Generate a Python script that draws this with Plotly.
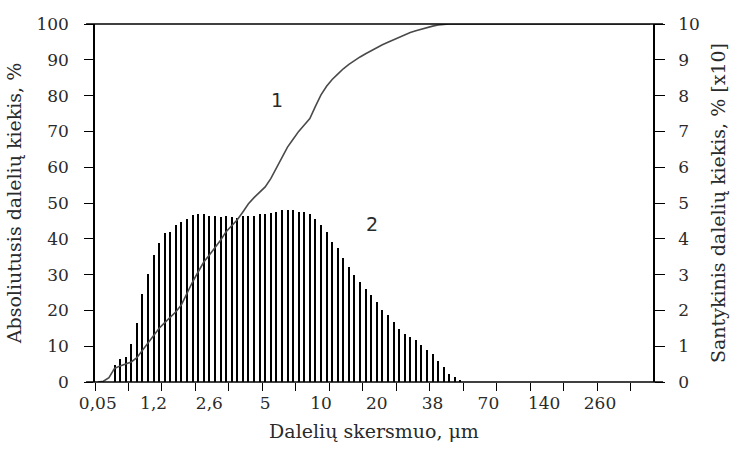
import plotly.graph_objects as go

# ---------------- data ----------------
categories = list(range(1, 101))
tick_positions = [1, 11, 21, 31, 41, 51, 61, 71, 81, 91]
tick_labels = ["0,05", "1,2", "2,6", "5", "10", "20", "38", "70", "140", "260"]

# curve 1 : absolute (cumulative) amount, %
cumulative = [
    0.0, 0.2, 1.2, 3.8, 4.5, 5.0, 5.6, 6.8, 8.8, 10.8,
    12.8, 15.0, 16.6, 18.1, 19.6, 21.6, 25.0, 28.0, 30.8, 33.5,
    35.5, 37.5, 39.6, 42.0, 43.7, 45.3, 47.5, 49.8, 51.5, 53.0,
    54.5, 56.8, 59.8, 62.8, 65.6, 67.8, 70.0, 71.8, 73.6, 77.0,
    80.2, 82.6, 84.5, 86.0, 87.5, 88.7, 89.8, 90.8, 91.7, 92.6,
    93.4, 94.2, 94.9, 95.6, 96.3, 97.0, 97.6, 98.1, 98.6, 99.0,
    99.4, 99.7, 99.9, 100, 100, 100, 100, 100, 100, 100,
    100, 100, 100, 100, 100, 100, 100, 100, 100, 100,
    100, 100, 100, 100, 100, 100, 100, 100, 100, 100,
    100, 100, 100, 100, 100, 100, 100, 100, 100, 100,
]

# bars 2 : relative amount, % [x10]
relative = [
    0, 0, 0, 0.47, 0.65, 0.70, 1.07, 1.64, 2.47, 3.03,
    3.54, 3.87, 4.15, 4.18, 4.38, 4.47, 4.56, 4.66, 4.70, 4.70,
    4.65, 4.64, 4.62, 4.64, 4.62, 4.59, 4.63, 4.65, 4.64, 4.70,
    4.70, 4.73, 4.75, 4.80, 4.80, 4.80, 4.75, 4.75, 4.70, 4.56,
    4.38, 4.19, 3.91, 3.73, 3.46, 3.21, 2.98, 2.79, 2.60, 2.42,
    2.23, 2.01, 1.86, 1.68, 1.49, 1.35, 1.26, 1.16, 1.03, 0.89,
    0.79, 0.60, 0.42, 0.23, 0.14, 0.05, 0, 0, 0, 0,
    0, 0, 0, 0, 0, 0, 0, 0, 0, 0,
    0, 0, 0, 0, 0, 0, 0, 0, 0, 0,
    0, 0, 0, 0, 0, 0, 0, 0, 0, 0,
]

minor_tick_positions = [0.5 + 6 * k for k in range(17)]

TEXT = "#2a2a2a"
SERIF = "DejaVu Serif"
FS = 17      # tick labels
TFS = 19     # axis titles

fig = go.Figure()

fig.add_trace(go.Bar(
    x=categories, y=relative, width=0.36,
    marker=dict(color="black", line=dict(width=0)),
    yaxis="y", showlegend=False, hoverinfo="skip",
))

fig.add_trace(go.Scatter(
    x=categories, y=cumulative, mode="lines",
    line=dict(color="#4a4a4a", width=1.6),
    yaxis="y2", showlegend=False, hoverinfo="skip",
))

fig.update_layout(
    width=737, height=455, autosize=False,
    margin=dict(l=95, r=84, t=24, b=73),
    paper_bgcolor="white", plot_bgcolor="white",
    font=dict(family=SERIF, size=FS, color=TEXT),
    bargap=0,
    xaxis=dict(
        range=[0.5, 100.5],
        tickmode="array", tickvals=tick_positions, ticktext=tick_labels,
        ticks="", showgrid=False, zeroline=False, showline=False,
        tickfont=dict(family=SERIF, size=FS, color=TEXT),
        ticklabelstandoff=9,
        minor=dict(tickmode="array", tickvals=minor_tick_positions,
                   ticks="outside", ticklen=8, tickcolor="black", tickwidth=1.3,
                   showgrid=False),
        title=dict(text="Dalelių skersmuo, μm", standoff=12,
                   font=dict(family=SERIF, size=TFS, color=TEXT)),
    ),
    yaxis=dict(
        side="right", range=[0, 10], dtick=1, tick0=0,
        ticks="outside", ticklen=10, tickcolor="black", tickwidth=1.3,
        showline=True, linecolor="black", linewidth=1.5,
        showgrid=False, zeroline=False,
        tickfont=dict(family=SERIF, size=FS, color=TEXT),
        ticklabelstandoff=10,
        title=dict(text="Santykinis dalelių kiekis, % [x10]", standoff=13,
                   font=dict(family=SERIF, size=TFS, color=TEXT)),
    ),
    yaxis2=dict(
        overlaying="y", side="left", range=[0, 100], dtick=10, tick0=0,
        ticks="outside", ticklen=9, tickcolor="black", tickwidth=1.3,
        showline=True, linecolor="black", linewidth=1.5,
        showgrid=False, zeroline=False,
        tickfont=dict(family=SERIF, size=FS, color=TEXT),
        ticklabelstandoff=12,
        title=dict(text="Absoliutusis dalelių kiekis, %", standoff=10,
                   font=dict(family=SERIF, size=TFS, color=TEXT)),
    ),
    shapes=[
        dict(type="line", xref="paper", yref="paper", x0=-0.016, x1=1.018,
             y0=0, y1=0, line=dict(color="black", width=1.5)),
        dict(type="line", xref="paper", yref="paper", x0=-0.016, x1=1.018,
             y0=1, y1=1, line=dict(color="black", width=1.5)),
    ],
    annotations=[
        dict(x=33.1, y=78.9, xref="x", yref="y2", text="1", showarrow=False,
             font=dict(family="DejaVu Sans", size=19, color=TEXT)),
        dict(x=50.1, y=44.2, xref="x", yref="y2", text="2", showarrow=False,
             font=dict(family="DejaVu Sans", size=19, color=TEXT)),
    ],
)

fig.write_html("out.html")
